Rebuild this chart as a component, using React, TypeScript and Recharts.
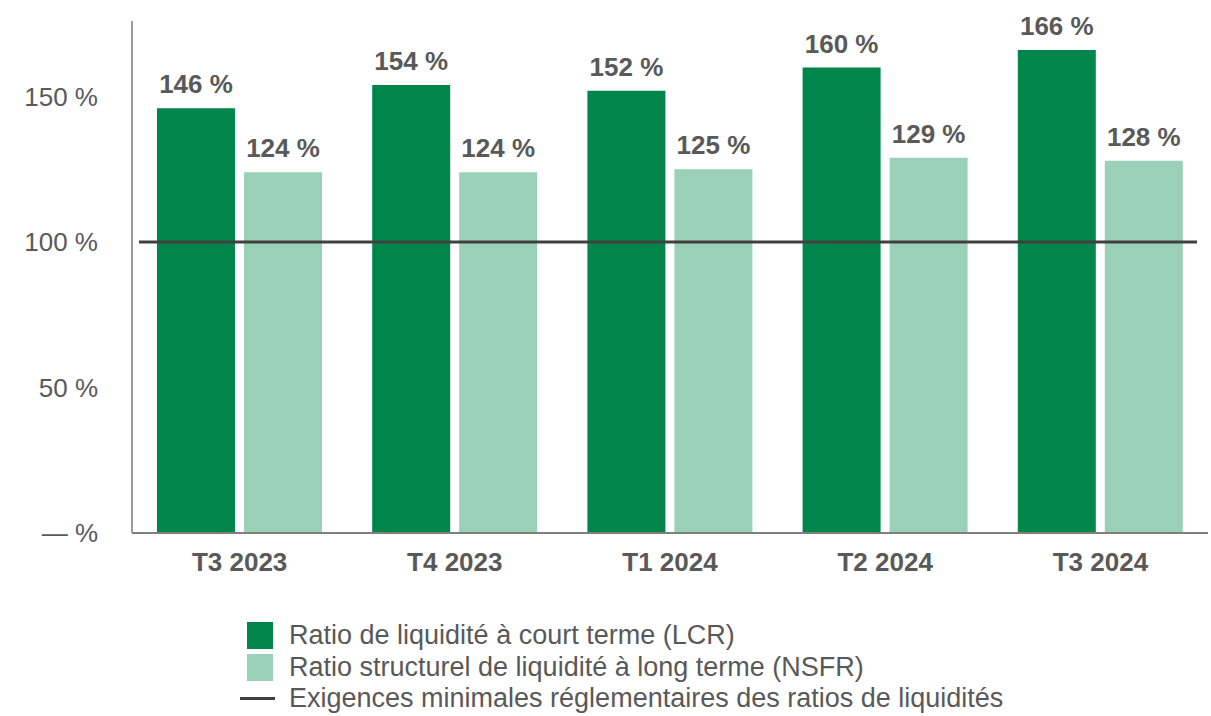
import { BarChart, Bar, XAxis, YAxis, ReferenceLine, LabelList, Legend } from "recharts";

const quarters = ["T3 2023", "T4 2023", "T1 2024", "T2 2024", "T3 2024"];
const lcr = [146, 154, 152, 160, 166];
const nsfr = [124, 124, 125, 129, 128];
const yTicks = [0, 50, 100, 150];
const minimum = 100;

const legendItems = [
  { label: "Ratio de liquidité à court terme (LCR)", color: "#00854a", kind: "box" },
  { label: "Ratio structurel de liquidité à long terme (NSFR)", color: "#9acfb8", kind: "box" },
  { label: "Exigences minimales réglementaires des ratios de liquidités", color: "#404040", kind: "line" },
];

const data = quarters.map((q, i) => ({ quarter: q, lcr: lcr[i], nsfr: nsfr[i] }));

const fmt = (v: number) => (v === 0 ? "— %" : `${v} %`);

function LegendBlock() {
  return (
    <div style={{ fontFamily: "'Liberation Sans', Arial, sans-serif", fontSize: 27, color: "#595959" }}>
      {legendItems.map((it) => (
        <div key={it.label} style={{ display: "flex", alignItems: "center", height: 31.5 }}>
          <div style={{ width: 49, flexShrink: 0 }}>
            {it.kind === "box" ? (
              <div style={{ width: 26, height: 27, background: it.color, marginLeft: 7 }} />
            ) : (
              <div style={{ width: 35, height: 3, background: it.color }} />
            )}
          </div>
          <span style={{ whiteSpace: "nowrap" }}>{it.label}</span>
        </div>
      ))}
    </div>
  );
}

const RefLine = (props: any) => {
  const { x1, x2, y1, y2 } = props;
  return <line x1={x1 + 7} x2={x2 - 11} y1={y1} y2={y2} stroke="#404040" strokeWidth={3} />;
};

export default function App() {
  return (
    <div style={{ position: "absolute", left: 0, top: 0, width: 1211, height: 716, background: "#fff" }}>
      <BarChart
        width={1211}
        height={716}
        data={data}
        margin={{ top: 21, right: 3, left: 0, bottom: 37 }}
        barSize={78}
        barGap={9}
      >
        <XAxis
          dataKey="quarter"
          height={50}
          tickLine={false}
          tickMargin={14}
          axisLine={{ stroke: "#7f7f7f", strokeWidth: 2 }}
          tick={{ fill: "#595959", fontSize: 26, fontWeight: 700, fontFamily: "'Liberation Sans', Arial, sans-serif" }}
        />
        <YAxis
          width={132}
          domain={[0, 176]}
          ticks={yTicks}
          tickFormatter={fmt}
          tickLine={false}
          tickMargin={28}
          axisLine={{ stroke: "#9a9a9a", strokeWidth: 2 }}
          tick={{ fill: "#595959", fontSize: 26, fontFamily: "'Liberation Sans', Arial, sans-serif" }}
        />
        <Legend
          verticalAlign="bottom"
          content={() => <LegendBlock />}
          wrapperStyle={{ left: 240, top: 620, width: 900, height: 96, bottom: "auto" }}
        />
        <Bar dataKey="lcr" fill="#00854a" isAnimationActive={false}>
          <LabelList
            dataKey="lcr"
            position="top"
            offset={15}
            formatter={(v: any) => fmt(v)}
            style={{ fill: "#595959", fontSize: 26, fontWeight: 700, fontFamily: "'Liberation Sans', Arial, sans-serif" }}
          />
        </Bar>
        <Bar dataKey="nsfr" fill="#9acfb8" isAnimationActive={false}>
          <LabelList
            dataKey="nsfr"
            position="top"
            offset={15}
            formatter={(v: any) => fmt(v)}
            style={{ fill: "#595959", fontSize: 26, fontWeight: 700, fontFamily: "'Liberation Sans', Arial, sans-serif" }}
          />
        </Bar>
        <ReferenceLine y={minimum} shape={RefLine} />
      </BarChart>
    </div>
  );
}
